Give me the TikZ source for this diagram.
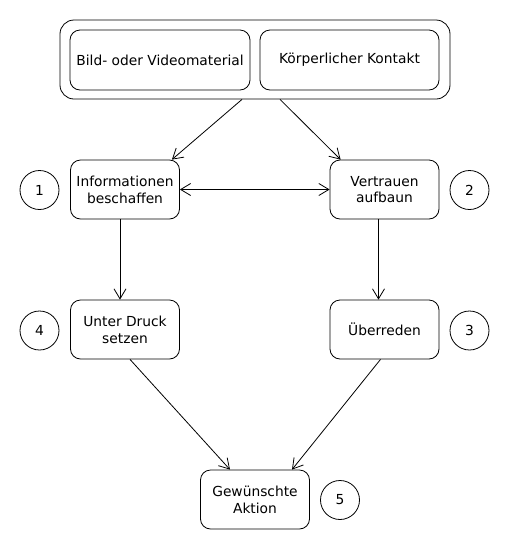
\documentclass[tikz,border=0pt]{standalone}
\usepackage{fontspec}
\setmainfont{DejaVu Sans}
\usetikzlibrary{arrows.meta}
\begin{document}
\begin{tikzpicture}[x=1pt,y=-1pt,line join=round,line width=.8pt,
	font=\fontsize{13.8}{16.7}\selectfont,>={Straight Barb[length=10pt,width=12pt]},
	kasten/.style={draw,rounded corners=10pt,minimum width=109pt,minimum height=59pt,align=center,inner sep=0pt},
	nummer/.style={draw,circle,minimum size=39pt,inner sep=0pt}]
	\useasboundingbox (0,0) rectangle (510,550);
	\node[draw,rounded corners=14pt,minimum width=390pt,minimum height=79pt] (quelle) at (255,59.5) {};
	\node[kasten,minimum width=180pt,minimum height=60pt] (bild) at (160,60) {Bild- oder Videomaterial};
	\node[kasten,minimum width=179pt,minimum height=60pt] (kontakt) at (349.5,60) {Körperlicher Kontakt};
	\node[kasten] (info) at (125,189.5) {Informationen\\beschaffen};
	\node[kasten] (vertrauen) at (384.5,189.5) {Vertrauen\\aufbaun};
	\node[kasten] (druck) at (125,329.5) {Unter Druck\\setzen};
	\node[kasten] (ueber) at (384.5,329.5) {Überreden};
	\node[kasten] (aktion) at (255,499.5) {Gewünschte\\Aktion};
	\foreach \n/\x/\y in {1/39.5/190,2/469.5/190,3/469.5/330.5,4/39.5/330.5,5/340/500}
		\node[nummer] (n\n) at (\x,\y) {\n};
	\draw[->] ([xshift=-13pt]quelle.south) -- ([xshift=-8pt]info.north east);
	\draw[->] ([xshift=25pt]quelle.south) -- ([xshift=11pt]vertrauen.north west);
	\draw[<->] (info) -- (vertrauen);
	\draw[->] ([xshift=-5pt]info.south) -- ([xshift=-5pt]druck.north);
	\draw[->] ([xshift=-6pt]vertrauen.south) -- ([xshift=-6pt]ueber.north);
	\draw[->] ([xshift=5pt]druck.south) -- ([xshift=-25pt]aktion.north);
	\draw[->] ([xshift=-4pt]ueber.south) -- ([xshift=37pt]aktion.north);
\end{tikzpicture}
\end{document}
